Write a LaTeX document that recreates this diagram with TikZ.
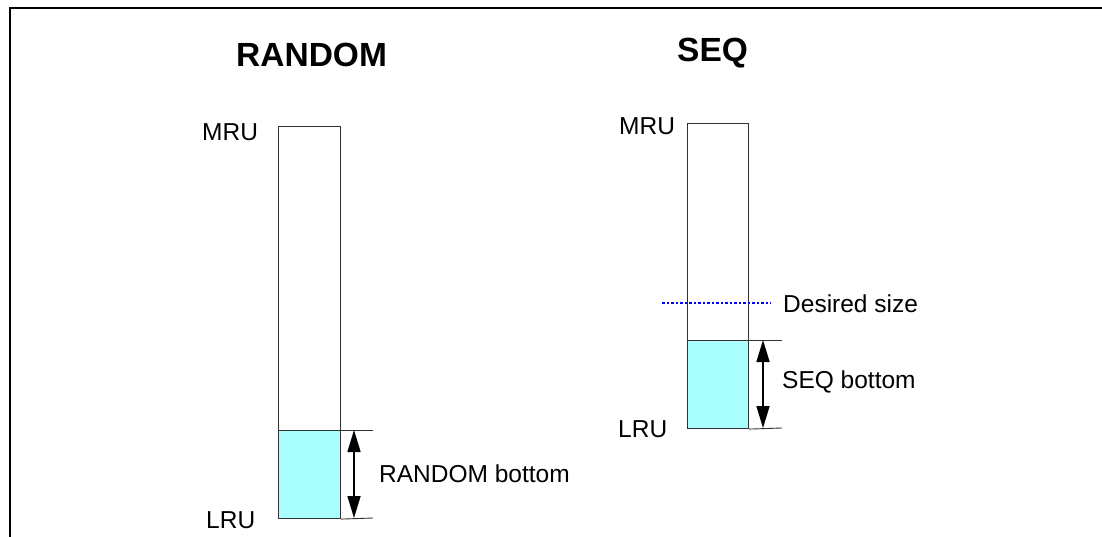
\documentclass[tikz,border=0pt]{standalone}
\usepackage{fontspec}
\setmainfont{Liberation Sans}
\usetikzlibrary{arrows.meta}
\definecolor{cyanfill}{RGB}{170,255,255}
\definecolor{boxline}{RGB}{50,50,50}
\begin{document}
\begin{tikzpicture}[x=1pt,y=-1pt,
  lbl/.style={anchor=base west,inner sep=0pt,font=\fontsize{24.5}{27}\selectfont},
  ttl/.style={anchor=base west,inner sep=0pt,font=\fontsize{33.5}{37}\selectfont\bfseries},
  colbox/.style={draw=boxline,line width=1.1pt},
  fillbox/.style={draw=boxline,line width=1.1pt,fill=cyanfill},
  extline/.style={draw=boxline,line width=0.9pt},
  dimarrow/.style={line width=1.6pt,{Triangle[length=22pt,width=13pt]}-{Triangle[length=22pt,width=13pt]}},
  desired/.style={blue,line width=1.5pt,dash pattern=on 2.5pt off 2pt}]
\useasboundingbox (0,0) rectangle (1102,537);
\fill[white] (0,0) rectangle (1102,537);
% frame
\coordinate (ftl) at (10,8);
\coordinate (ftr) at (1102,8);
\coordinate (fbl) at (10,537);
\draw[line width=1.6pt] (fbl) -- (ftl) -- (ftr);
% RANDOM column
\node[ttl] (rtitle) at (236,67) {RANDOM};
\node[colbox,minimum width=62pt,minimum height=392pt,inner sep=0pt,anchor=north west] (rbox) at (278,126) {};
\node[fillbox,minimum width=62pt,minimum height=88pt,inner sep=0pt,anchor=north west] (rfill) at (278,430) {};
\node[lbl] (rmru) at (202,141) {MRU};
\node[lbl] (rlru) at (206,528) {LRU};
\coordinate (rexttop) at (373,430);
\coordinate (rextbot) at (373,518);
\draw[extline] (rfill.north east) -- (rexttop);
\draw[extline] (rfill.south east) -- (rextbot);
\coordinate (rarrtop) at (354,430);
\coordinate (rarrbot) at (354,518);
\draw[dimarrow] (rarrtop) -- (rarrbot);
\node[lbl] (rlabel) at (379,482) {RANDOM bottom};
% SEQ column
\node[ttl] (stitle) at (677,62) {SEQ};
\node[colbox,minimum width=61pt,minimum height=305pt,inner sep=0pt,anchor=north west] (sbox) at (687,123) {};
\node[fillbox,minimum width=61pt,minimum height=88pt,inner sep=0pt,anchor=north west] (sfill) at (687,340) {};
\node[lbl] (smru) at (619,135) {MRU};
\node[lbl] (slru) at (618,437) {LRU};
\coordinate (sexttop) at (782,340);
\coordinate (sextbot) at (782,428);
\draw[extline] (sfill.north east) -- (sexttop);
\draw[extline] (sfill.south east) -- (sextbot);
\coordinate (sarrtop) at (763,340);
\coordinate (sarrbot) at (763,428);
\draw[dimarrow] (sarrtop) -- (sarrbot);
\node[lbl] (slabel) at (782,388) {SEQ bottom};
\coordinate (dl) at (662,303);
\coordinate (dr) at (771,303);
\draw[desired] (dl) -- (dr);
\node[lbl] (dlabel) at (783,312) {Desired size};
\end{tikzpicture}
\end{document}
